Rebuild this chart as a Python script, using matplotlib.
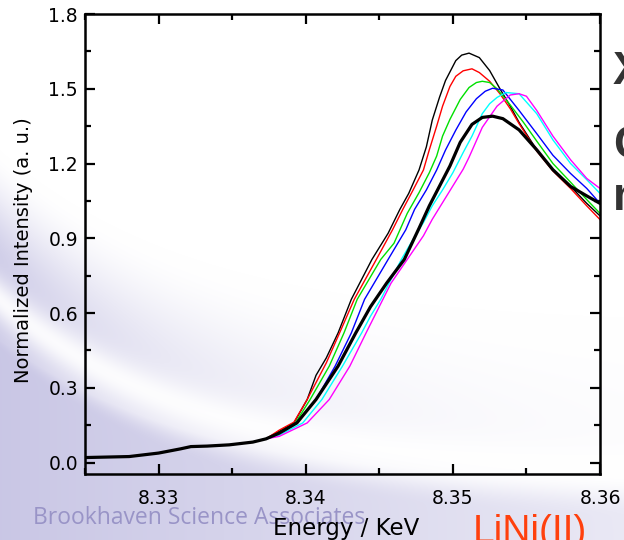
import numpy as np
import matplotlib
matplotlib.use("Agg")
import matplotlib.pyplot as plt
from matplotlib.ticker import MultipleLocator, FormatStrFormatter

# pre-edge region, the scans all sit on top of each other here
pre_e = [8.3250, 8.3280, 8.3300, 8.3315, 8.3322, 8.3333, 8.3348, 8.3364, 8.3373]
pre_mu = [0.020, 0.024, 0.038, 0.055, 0.064, 0.066, 0.071, 0.082, 0.095]

# edge + white line, one list pair per scan
e_black = [8.3382, 8.3392, 8.3401, 8.3407, 8.3414, 8.3422, 8.3431, 8.3445, 8.3456, 8.3464,
           8.3470, 8.3477, 8.3482, 8.3486, 8.3491, 8.3495, 8.3502, 8.3506, 8.3511, 8.3518,
           8.3525, 8.3532, 8.3539, 8.3545, 8.3557, 8.3568, 8.3580, 8.3591, 8.3600]
mu_black = [0.125, 0.159, 0.253, 0.35, 0.42, 0.52, 0.655, 0.815, 0.92, 1.016,
            1.08, 1.174, 1.267, 1.374, 1.467, 1.533, 1.613, 1.635, 1.643, 1.625,
            1.573, 1.50, 1.43, 1.365, 1.255, 1.175, 1.108, 1.04, 0.99]

e_red = [8.3382, 8.3392, 8.3401, 8.3414, 8.3423, 8.3433, 8.3448, 8.3459, 8.3466, 8.3473,
         8.3480, 8.3484, 8.3489, 8.3493, 8.3498, 8.3502, 8.3507, 8.3513, 8.3518, 8.3525,
         8.3532, 8.3539, 8.3545, 8.3557, 8.3568, 8.3580, 8.3591, 8.3600]
mu_red = [0.13, 0.162, 0.253, 0.40, 0.52, 0.655, 0.815, 0.934, 1.016, 1.094,
          1.174, 1.255, 1.35, 1.43, 1.509, 1.55, 1.572, 1.58, 1.565, 1.53,
          1.48, 1.42, 1.36, 1.25, 1.17, 1.10, 1.03, 0.975]

e_green = [8.3382, 8.3393, 8.3403, 8.3416, 8.3426, 8.3435, 8.3451, 8.3460, 8.3469, 8.3477,
           8.3484, 8.3489, 8.3493, 8.3498, 8.3505, 8.3511, 8.3516, 8.3520, 8.3525, 8.3530,
           8.3539, 8.3548, 8.3557, 8.3568, 8.3580, 8.3591, 8.3600]
mu_green = [0.12, 0.159, 0.253, 0.387, 0.52, 0.655, 0.815, 0.88, 1.0, 1.083,
            1.163, 1.23, 1.31, 1.377, 1.457, 1.505, 1.525, 1.53, 1.525, 1.50,
            1.435, 1.365, 1.29, 1.20, 1.125, 1.055, 1.00]

e_blue = [8.3382, 8.3394, 8.3407, 8.3420, 8.3431, 8.3440, 8.3456, 8.3468, 8.3474, 8.3482,
          8.3489, 8.3495, 8.3502, 8.3509, 8.3516, 8.3522, 8.3527, 8.3534, 8.3545, 8.3557,
          8.3568, 8.3580, 8.3591, 8.3600]
mu_blue = [0.115, 0.159, 0.253, 0.387, 0.52, 0.655, 0.815, 0.934, 1.016, 1.094,
           1.174, 1.254, 1.334, 1.407, 1.46, 1.49, 1.502, 1.495, 1.413, 1.32,
           1.233, 1.16, 1.10, 1.04]

e_cyan = [8.3382, 8.3398, 8.3411, 8.3425, 8.3438, 8.3444, 8.3451, 8.3465, 8.3473, 8.3480,
          8.3486, 8.3493, 8.3500, 8.3507, 8.3513, 8.3520, 8.3525, 8.3530, 8.3536, 8.3545,
          8.3557, 8.3568, 8.3580, 8.3591, 8.3600]
mu_cyan = [0.11, 0.159, 0.253, 0.387, 0.52, 0.587, 0.655, 0.815, 0.896, 0.963,
           1.03, 1.094, 1.163, 1.244, 1.31, 1.40, 1.44, 1.465, 1.485, 1.48,
           1.40, 1.295, 1.20, 1.135, 1.08]

e_magenta = [8.3382, 8.3401, 8.3416, 8.3430, 8.3441, 8.3449, 8.3458, 8.3469, 8.3480, 8.3486,
             8.3493, 8.3500, 8.3507, 8.3511, 8.3520, 8.3530, 8.3539, 8.3545, 8.3550, 8.3557,
             8.3568, 8.3580, 8.3591, 8.3600]
mu_magenta = [0.105, 0.159, 0.253, 0.387, 0.52, 0.614, 0.72, 0.815, 0.91, 0.976,
              1.043, 1.11, 1.177, 1.225, 1.345, 1.43, 1.475, 1.48, 1.47, 1.413,
              1.31, 1.215, 1.14, 1.10]

e_ref = [8.3382, 8.3394, 8.3407, 8.3422, 8.3434, 8.3444, 8.3455, 8.3467, 8.3477, 8.3484,
         8.3491, 8.3498, 8.3505, 8.3513, 8.3520, 8.3527, 8.3534, 8.3545, 8.3557, 8.3568,
         8.3580, 8.3591, 8.3600]
mu_ref = [0.118, 0.159, 0.253, 0.387, 0.52, 0.625, 0.72, 0.815, 0.94, 1.03,
          1.11, 1.19, 1.285, 1.357, 1.385, 1.39, 1.38, 1.335, 1.255, 1.175,
          1.108, 1.07, 1.04]

y_ticks = [0.0, 0.3, 0.6, 0.9, 1.2, 1.5, 1.8]
x_ticks = [8.33, 8.34, 8.35, 8.36]


def slide_background(w, h):
    # lavender swoosh of the slide template
    yy, xx = np.mgrid[0:h, 0:w] + 0.5
    yc = 300 + 175 * (1 - np.exp(-xx / 200))
    d = yy - yc

    def smooth(t):
        t = np.clip(t, 0, 1)
        return t * t * (3 - 2 * t)

    above = 0.9 * np.exp(-xx / 220) * smooth((yy - (yc - 150)) / 120)
    below = smooth(d / 50) * (1.0 - 0.6 * xx / w)
    band = np.exp(-(d / 22) ** 2)
    s = np.clip(np.maximum(above, below) * (1 - 0.9 * band), 0, 1)
    lav = np.array([0.79, 0.78, 0.90])
    return 1 - s[..., None] * (1 - lav)


W, H = 624, 540
fig = plt.figure(figsize=(W / 100, H / 100), dpi=100)

bg = fig.add_axes([0, 0, 1, 1], zorder=0)
bg.imshow(slide_background(W, H), aspect="auto", extent=(0, W, H, 0))
bg.axis("off")

ax = fig.add_axes([85 / W, 1 - 474 / H, 515 / W, 460 / H], zorder=1)
ax.set_facecolor("none")

series = [
    (e_black, mu_black, "black", 1.0),
    (e_red, mu_red, "#ff0000", 1.0),
    (e_green, mu_green, "#00e000", 1.0),
    (e_blue, mu_blue, "#0000ff", 1.0),
    (e_cyan, mu_cyan, "#00ffff", 1.0),
    (e_magenta, mu_magenta, "#ff00ff", 1.0),
    (e_ref, mu_ref, "black", 2.3),
]
for e, mu, c, lw in series:
    ax.plot(pre_e + e, pre_mu + mu, color=c, lw=lw, solid_joinstyle="round")

ax.set_xlim(8.325, 8.36)
ax.set_ylim(-0.046, 1.8)
ax.set_xticks(x_ticks)
ax.set_yticks(y_ticks)
ax.xaxis.set_minor_locator(MultipleLocator(0.005))
ax.yaxis.set_minor_locator(MultipleLocator(0.15))
ax.xaxis.set_major_formatter(FormatStrFormatter("%.2f"))
ax.yaxis.set_major_formatter(FormatStrFormatter("%.1f"))
ax.tick_params(which="both", direction="in", top=True, right=True, width=1.6, colors="black")
ax.tick_params(which="major", length=7)
ax.tick_params(which="minor", length=4)
ax.tick_params(axis="x", which="major", pad=11, labelsize=13.5)
ax.tick_params(axis="y", which="major", pad=5, labelsize=13.5)
for sp in ax.spines.values():
    sp.set_linewidth(1.8)

# slide texts
fig.text(33 / W, 1 - 524 / H, "Brookhaven Science Associates", family="Open Sans",
         fontsize=16.5, color=(0.60, 0.58, 0.78), va="baseline", ha="left", zorder=2)
fig.text(346 / W, 1 - 528 / H, "Energy / KeV", fontsize=16.5, color="black",
         ha="center", va="center", zorder=3)
fig.text(24 / W, 1 - 250 / H, "Normalized Intensity (a. u.)", fontsize=14, color="black",
         rotation=90, ha="center", va="center", zorder=3)
fig.text(473 / W, 1 - 514 / H, "LiNi(II)", family="Liberation Sans",
         fontsize=28, color=(1.0, 0.25, 0.05), ha="left", va="top", zorder=3)
for txt, top in [("X", 50), ("C", 124), ("n", 176)]:
    fig.text(613 / W, 1 - top / H, txt, family="Liberation Sans", fontweight="bold",
             fontsize=33, color="#333333", ha="left", va="top", zorder=3)

fig.savefig("out.png", dpi=100)
